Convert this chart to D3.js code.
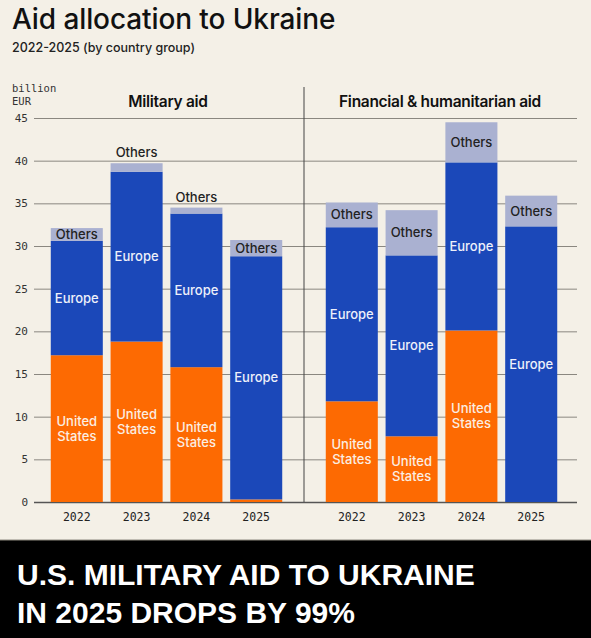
<!DOCTYPE html>
<html>
<head>
<meta charset="utf-8">
<script src="https://cdn.jsdelivr.net/npm/d3@7"></script>
<style>
  html, body { margin: 0; padding: 0; background: #f4f0e7; }
  svg { display: block; }
</style>
</head>
<body>
<div id="chart"></div>
<script>
// Values (billion EUR)
const years = ["2022", "2023", "2024", "2025"];
const groups = ["United States", "Europe", "Others"];
const militaryUS = [17.2, 18.8, 15.8, 0.3];
const militaryEurope = [13.4, 19.9, 18.0, 28.5];
const militaryOthers = [1.5, 1.0, 0.7, 1.9];
const financialUS = [11.8, 7.7, 20.1, 0];
const financialEurope = [20.4, 21.2, 19.7, 32.3];
const financialOthers = [2.9, 5.3, 4.7, 3.6];
const yTicks = [0, 5, 10, 15, 20, 25, 30, 35, 40, 45];

const width = 591;
const height = 638;
const colors = { "United States": "#fd6a02", Europe: "#1b48b9", Others: "#aab1d1" };
const sans = "Inter, 'Liberation Sans', sans-serif";
const mono = "'DejaVu Sans Mono', 'Liberation Mono', monospace";

const svg = d3
  .select("#chart")
  .append("svg")
  .attr("width", width)
  .attr("height", height);

svg.append("rect").attr("width", width).attr("height", height).attr("fill", "#f4f0e7");

// Titles
svg.append("text")
  .attr("x", 12).attr("y", 29)
  .style("font-family", sans).style("font-size", "28px").style("font-weight", 500)
  .style("letter-spacing", "-0.1px")
  .attr("fill", "#111")
  .text("Aid allocation to Ukraine");

svg.append("text")
  .attr("x", 12).attr("y", 52)
  .style("font-family", sans).style("font-size", "12.5px").style("font-weight", 500)
  .attr("fill", "#222")
  .text("2022-2025 (by country group)");

svg.append("text")
  .attr("x", 12).attr("y", 92)
  .style("font-family", mono).style("font-size", "10.5px")
  .attr("fill", "#333")
  .text("billion");
svg.append("text")
  .attr("x", 12).attr("y", 105)
  .style("font-family", mono).style("font-size", "10.5px")
  .attr("fill", "#333")
  .text("EUR");

// Y scale + gridlines
const y = d3.scaleLinear().domain([0, 45]).range([502, 118]);

const yAxis = d3.axisLeft(y).tickValues(yTicks).tickSize(543).tickPadding(6);
const gy = svg.append("g").attr("transform", "translate(577,0)").call(yAxis);
gy.select(".domain").remove();
gy.selectAll(".tick line").attr("stroke", "#8a8780").attr("stroke-width", 1);
gy.select(".tick:first-of-type line").attr("stroke", "#555").attr("stroke-width", 1.5);
gy.selectAll(".tick text")
  .style("font-family", mono).style("font-size", "11px").attr("fill", "#333");

// Divider
svg.append("line")
  .attr("x1", 304).attr("x2", 304)
  .attr("y1", 87).attr("y2", y(0))
  .attr("stroke", "#444").attr("stroke-width", 1);

const panels = [
  { title: "Military aid", cx: 168, range: [43, 290], us: militaryUS, eu: militaryEurope, ot: militaryOthers },
  { title: "Financial & humanitarian aid", cx: 440, range: [318, 565], us: financialUS, eu: financialEurope, ot: financialOthers }
];

panels.forEach((p) => {
  const x = d3.scaleBand().domain(years).range(p.range).paddingInner(0.13).paddingOuter(0.13);

  const rows = years.map((yr, i) => ({
    year: yr,
    "United States": p.us[i],
    Europe: p.eu[i],
    Others: p.ot[i]
  }));
  const stacked = d3.stack().keys(groups)(rows);

  const g = svg.append("g");

  g.append("text")
    .attr("x", p.cx).attr("y", 107)
    .attr("text-anchor", "middle")
    .style("font-family", sans).style("font-size", "15.5px").style("font-weight", 600)
    .style("letter-spacing", "-0.3px")
    .attr("fill", "#111")
    .text(p.title);

  stacked.forEach((layer) => {
    const key = layer.key;
    layer.forEach((d) => {
      const x0 = x(d.data.year);
      const h = y(d[0]) - y(d[1]);
      if (h <= 0) return;
      g.append("rect")
        .attr("x", x0)
        .attr("y", y(d[1]))
        .attr("width", x.bandwidth())
        .attr("height", h)
        .attr("fill", colors[key]);

      const cx = x0 + x.bandwidth() / 2;
      const cy = (y(d[0]) + y(d[1])) / 2;
      if (key === "Others") {
        const ty = h < 12 ? y(d[1]) - 6 : cy + 4.5;
        g.append("text")
          .attr("x", cx).attr("y", ty)
          .attr("text-anchor", "middle")
          .style("font-family", sans).style("font-size", "13px").style("font-weight", 500)
          .attr("fill", "#222")
          .text("Others");
      } else if (key === "Europe") {
        g.append("text")
          .attr("x", cx).attr("y", cy + 4.5)
          .attr("text-anchor", "middle")
          .style("font-family", sans).style("font-size", "13px").style("font-weight", 500)
          .attr("fill", "#eef0fa")
          .text("Europe");
      } else if (h > 30) {
        const t = g.append("text")
          .attr("x", cx).attr("y", cy - 3)
          .attr("text-anchor", "middle")
          .style("font-family", sans).style("font-size", "13px").style("font-weight", 500)
          .attr("fill", "#fbeee2");
        t.append("tspan").attr("x", cx).text("United");
        t.append("tspan").attr("x", cx).attr("dy", 15).text("States");
      }
    });
  });

  // Year labels
  g.selectAll(".year")
    .data(years)
    .enter()
    .append("text")
    .attr("x", (d) => x(d) + x.bandwidth() / 2)
    .attr("y", 521)
    .attr("text-anchor", "middle")
    .style("font-family", mono).style("font-size", "11.5px")
    .attr("fill", "#222")
    .text((d) => d);
});

// Caption band
svg.append("rect").attr("x", 0).attr("y", 540).attr("width", width).attr("height", 98).attr("fill", "#000");
svg.append("line").attr("x1", 0).attr("x2", width).attr("y1", 540).attr("y2", 540).attr("stroke", "#8d897e");

const caption = ["U.S. MILITARY AID TO UKRAINE", "IN 2025 DROPS BY 99%"];
svg.selectAll(".caption")
  .data(caption)
  .enter()
  .append("text")
  .attr("x", 17)
  .attr("y", (d, i) => 585 + i * 38)
  .style("font-family", "'Liberation Sans', Arial, sans-serif")
  .style("font-size", "30px").style("font-weight", 700)
  .attr("fill", "#fff")
  .text((d) => d);
</script>
</body>
</html>
